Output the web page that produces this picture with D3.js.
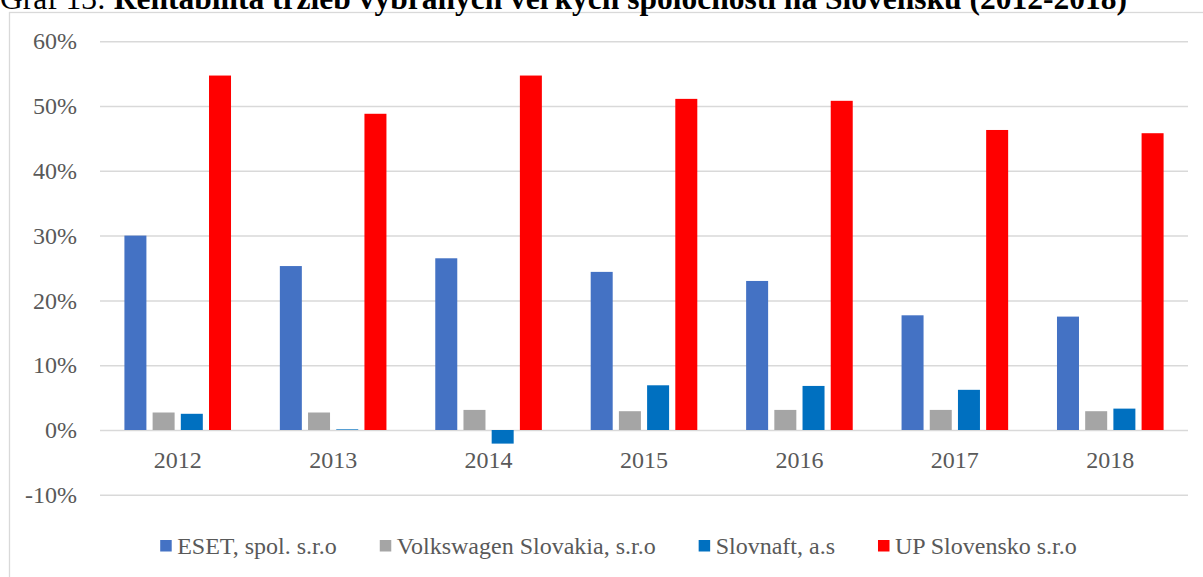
<!DOCTYPE html>
<html>
<head>
<meta charset="utf-8">
<script src="https://cdnjs.cloudflare.com/ajax/libs/d3/7.8.5/d3.min.js"></script>
<style>
  body { margin: 0; background: #fff; }
  svg { display: block; }
  text { font-family: "Liberation Serif", "Times New Roman", serif; }
</style>
</head>
<body>
<div id="chart"></div>
<script>
var years = ["2012", "2013", "2014", "2015", "2016", "2017", "2018"];
var seriesNames = ["ESET, spol. s.r.o", "Volkswagen Slovakia, s.r.o", "Slovnaft, a.s", "UP Slovensko s.r.o"];
var eset       = [0.300, 0.253, 0.265, 0.244, 0.230, 0.177, 0.175];
var volkswagen = [0.027, 0.027, 0.031, 0.029, 0.031, 0.031, 0.029];
var slovnaft   = [0.025, 0.001, -0.021, 0.069, 0.068, 0.062, 0.033];
var upSlovensko= [0.547, 0.488, 0.547, 0.511, 0.508, 0.463, 0.458];
var yTicks = [-0.1, 0, 0.1, 0.2, 0.3, 0.4, 0.5, 0.6];
var colors = ["#4472C4", "#A5A5A5", "#0070C0", "#FF0000"];

var allSeries = [eset, volkswagen, slovnaft, upSlovensko];

var W = 1203, H = 577;
var margin = {left: 100, right: 15, top: 41.2, bottom: 82.2};
var fontSize = 24;

var svg = d3.select("#chart").append("svg")
  .attr("width", W)
  .attr("height", H);

// outer frame (runs past the window on the right and bottom)
svg.append("rect")
  .attr("x", 9.5).attr("y", 12.5)
  .attr("width", 1240).attr("height", 600)
  .attr("fill", "none")
  .attr("stroke", "#d9d9d9")
  .attr("stroke-width", 1.3);

// title, cut at top like the page it came from
var title = svg.append("text")
  .attr("x", 0).attr("y", 9)
  .attr("font-size", 31.5)
  .attr("fill", "#000");
title.append("tspan").text("Graf 13: ");
title.append("tspan").attr("font-weight", "bold")
  .text("Rentabilita tržieb vybraných veľkých spoločností na Slovensku (2012-2018)");

var x0 = d3.scaleBand()
  .domain(years)
  .range([margin.left, W - margin.right]) // 100 .. 1188
  .padding(0);

var groupW = 106.6;
var x1 = d3.scaleBand()
  .domain(d3.range(seriesNames.length))
  .range([(x0.bandwidth() - groupW) / 2, (x0.bandwidth() + groupW) / 2])
  .paddingInner(0.22)
  .paddingOuter(0);

var y = d3.scaleLinear()
  .domain([-0.1, 0.6])
  .range([H - margin.bottom, margin.top]);

var pct = function(d) { return d3.format(".0%")(d).replace("\u2212", "-"); };

// gridlines + y labels
var yAxis = svg.append("g")
  .attr("transform", "translate(" + margin.left + ",0)")
  .call(d3.axisLeft(y)
    .tickValues(yTicks)
    .tickFormat(pct)
    .tickSize(-(x0.range()[1] - margin.left))
    .tickPadding(23));
yAxis.attr("font-family", null);
yAxis.select(".domain").remove();
yAxis.selectAll(".tick line")
  .attr("stroke", "#d9d9d9")
  .attr("stroke-width", 1.5);
yAxis.selectAll(".tick text")
  .attr("fill", "#595959")
  .attr("font-size", fontSize);

// bars
var groups = svg.selectAll("g.year")
  .data(years)
  .enter().append("g")
  .attr("class", "year")
  .attr("transform", function(d) { return "translate(" + x0(d) + ",0)"; });

groups.selectAll("rect")
  .data(function(d, i) { return allSeries.map(function(s, k) { return {k: k, v: s[i]}; }); })
  .enter().append("rect")
  .attr("x", function(d) { return x1(d.k); })
  .attr("width", x1.bandwidth())
  .attr("y", function(d) { return y(Math.max(0, d.v)); })
  .attr("height", function(d) { return Math.abs(y(d.v) - y(0)); })
  .attr("fill", function(d) { return colors[d.k]; });

// category labels under the zero line
var xAxis = svg.append("g")
  .attr("transform", "translate(0," + y(0) + ")")
  .call(d3.axisBottom(x0).tickSize(0).tickPadding(21));
xAxis.attr("font-family", null);
xAxis.select(".domain").remove();
xAxis.selectAll(".tick text")
  .attr("fill", "#595959")
  .attr("font-size", fontSize);

// legend
var legend = svg.append("g");
var items = legend.selectAll("g")
  .data(seriesNames)
  .enter().append("g");
items.append("rect")
  .attr("y", 540)
  .attr("width", 11.5).attr("height", 11.5)
  .attr("fill", function(d, i) { return colors[i]; });
items.append("text")
  .attr("x", 17)
  .attr("y", 554)
  .attr("font-size", fontSize)
  .attr("fill", "#595959")
  .text(function(d) { return d; });

var gap = 43;
var pos = 0;
items.each(function() {
  var g = d3.select(this);
  g.attr("transform", "translate(" + pos + ",0)");
  pos += 17 + g.select("text").node().getComputedTextLength() + gap;
});
var total = pos - gap;
legend.attr("transform", "translate(" + (618.5 - total / 2) + ",0)");
</script>
</body>
</html>
